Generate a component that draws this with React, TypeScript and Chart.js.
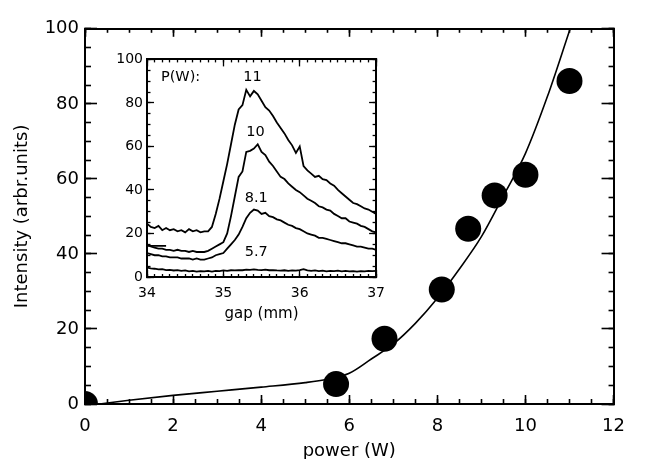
import React, { useEffect, useRef } from 'react';
import { Chart, registerables } from 'chart.js';

Chart.register(...registerables);

// ---------- main panel data ----------
const powerW = [0, 5.7, 6.8, 8.1, 8.7, 9.3, 10.0, 11.0];
const intensity = [0, 5.3, 17.4, 30.5, 46.7, 55.6, 61.1, 86.1];

const fitPowerW = [0.33, 1, 2, 3, 4, 5, 5.5, 6, 6.5, 7, 7.5, 8, 8.5, 9, 9.5, 10, 10.5, 11, 11.1];
const fitIntensity = [0, 1.0, 2.3, 3.4, 4.5, 5.7, 6.6, 8.2, 12.0, 16.0, 21.5, 28.2, 36, 44.6, 55.5, 66.8, 82, 99.5, 103];

const powerTicks = [0, 2, 4, 6, 8, 10, 12];
const intensityTicks = [0, 20, 40, 60, 80, 100];
const powerMinorStep = 0.5;
const intensityMinorStep = 5;

// ---------- inset data ----------
const gapMm = [
  34.0, 34.05, 34.1, 34.15, 34.2, 34.25, 34.3, 34.35, 34.4, 34.45,
  34.5, 34.55, 34.6, 34.65, 34.7, 34.75, 34.8, 34.85, 34.9, 34.95,
  35.0, 35.05, 35.1, 35.15, 35.2, 35.25, 35.3, 35.35, 35.4, 35.45,
  35.5, 35.55, 35.6, 35.65, 35.7, 35.75, 35.8, 35.85, 35.9, 35.95,
  36.0, 36.05, 36.1, 36.15, 36.2, 36.25, 36.3, 36.35, 36.4, 36.45,
  36.5, 36.55, 36.6, 36.65, 36.7, 36.75, 36.8, 36.85, 36.9, 36.95,
  37.0,
];
const spectrum11W = [
  24.5, 23, 22.5, 23.5, 21.5, 22.5, 21.5, 22, 21, 21.5,
  20.5, 22, 21, 21.5, 20.5, 21, 21, 23, 29, 36,
  44, 52, 61, 70, 77, 79, 86, 83, 85.5, 84,
  81, 78, 76.5, 74, 71, 68.5, 66, 63, 60.5, 57,
  60, 51, 49, 47.5, 46, 46.5, 45, 44.5, 43, 42,
  40, 38.5, 37, 35.5, 34, 33.5, 32.5, 31.5, 31, 30,
  29,
];
const spectrum10W = [
  15, 14, 13.5, 13, 13, 12.5, 12.5, 12, 12.5, 12,
  12, 11.5, 12, 11.5, 11.5, 11.5, 12, 13, 14, 15,
  16, 20, 28, 37, 46, 48.5, 57.5, 58, 59, 61,
  57.5, 56, 53, 51, 48.5, 46, 45, 43, 41.5, 40,
  39, 37.5, 36, 35, 34, 32.5, 32, 31, 30.5, 29,
  28, 27, 27, 25.5, 25, 24.5, 23.5, 23, 22, 21,
  20.5,
];
const spectrum8p1W = [
  11, 10.5, 10, 10, 9.5, 9.5, 9, 9, 9, 8.5,
  8.5, 8.5, 8, 8.5, 8, 8, 8.5, 9, 10, 10.5,
  11, 13, 15, 17, 19.5, 23, 27, 29.5, 31, 30.5,
  29, 29.5, 28, 27.5, 26.5, 26, 25, 24, 23.5, 22.5,
  22, 21, 20, 19.5, 19, 18, 18, 17.5, 17, 16.5,
  16, 15.5, 15.5, 15, 14.5, 14, 14, 13.5, 13, 13,
  12.5,
];
const spectrum5p7W = [
  4.3, 4, 3.8, 3.5, 3.6, 3.2, 3.3, 3, 3.2, 2.8,
  3, 2.6, 2.8, 2.5, 2.7, 2.6, 2.8, 2.5, 2.8, 2.7,
  3, 2.8, 3.1, 3, 3.2, 3.1, 3.4, 3.3, 3.5, 3.3,
  3.2, 3.4, 3.1, 3.2, 3, 2.9, 3.1, 2.8, 3, 2.9,
  3.2, 3.6, 3, 2.8, 3, 2.7, 2.9, 2.6, 2.8, 2.7,
  2.9, 2.6, 2.8, 2.6, 2.7, 2.5, 2.7, 2.6, 2.8, 2.7,
  2.8,
];
const markGap = [34.0, 34.25];
const markLevel = [14.3, 14.3];

const gapTicks = [34, 35, 36, 37];
const insetTicks = [0, 20, 40, 60, 80, 100];
const gapMinorStep = 0.1;
const insetMinorStep = 5;

const insetLabels = ['P(W):', '11', '10', '8.1', '5.7'];
const insetLabelGap = [34.44, 35.38, 35.42, 35.43, 35.43];
const insetLabelLevel = [92, 91.7, 66.5, 36.4, 11.2];

// ---------- helpers ----------
const FONT = 'DejaVu Sans';
const NO_OVERFLOW = { left: 0, top: 0, right: 0, bottom: 0 };

function stepsBetween(min: number, max: number, step: number): number[] {
  const out: number[] = [];
  const n = Math.round((max - min) / step);
  for (let i = 0; i <= n; i++) out.push(+(min + i * step).toFixed(6));
  return out;
}

function pairs(xs: number[], ys: number[]) {
  return xs.map((x, i) => ({ x, y: ys[i] }));
}

interface AxisSpec {
  pos: 'left' | 'right' | 'top' | 'bottom';
  min: number;
  max: number;
  ticks: number[];
  len: number;
  size: number;
  weight: number;
  tickWidth: number;
  border: number;
  labels?: { size: number; padding: number };
  title?: { text: string; size: number; padding: any };
}

function makeAxis(s: AxisSpec) {
  return {
    type: 'linear',
    position: s.pos,
    min: s.min,
    max: s.max,
    weight: s.weight,
    afterBuildTicks: (sc: any) => {
      sc.ticks = s.ticks.map((v) => ({ value: v }));
    },
    afterFit: (sc: any) => {
      if (sc.isHorizontal()) sc.height = s.size;
      else sc.width = s.size;
    },
    ticks: s.labels
      ? {
          display: true,
          autoSkip: false,
          maxRotation: 0,
          minRotation: 0,
          padding: s.labels.padding,
          color: '#000',
          font: { family: FONT, size: s.labels.size },
          callback: (v: any) => String(v),
        }
      : { display: false },
    grid: {
      display: true,
      drawOnChartArea: false,
      drawTicks: true,
      tickLength: -s.len,
      tickWidth: s.tickWidth,
      tickColor: '#000',
    },
    border: { display: s.border > 0, color: '#000', width: s.border || 1 },
    title: s.title
      ? {
          display: true,
          text: s.title.text,
          color: '#000',
          font: { family: FONT, size: s.title.size },
          padding: s.title.padding,
        }
      : { display: false },
  };
}

const insetTextPlugin = {
  id: 'insetText',
  afterDatasetsDraw(chart: any) {
    const { ctx } = chart;
    const xs = chart.scales.x;
    const ys = chart.scales.y;
    ctx.save();
    ctx.fillStyle = '#000';
    ctx.font = `14.5px "${FONT}"`;
    ctx.textAlign = 'center';
    ctx.textBaseline = 'middle';
    insetLabels.forEach((t, i) => {
      ctx.fillText(t, xs.getPixelForValue(insetLabelGap[i]), ys.getPixelForValue(insetLabelLevel[i]));
    });
    ctx.restore();
  },
};

export default function App() {
  const mainRef = useRef<HTMLCanvasElement>(null);
  const insetRef = useRef<HTMLCanvasElement>(null);

  useEffect(() => {
    document.body.style.margin = '0';

    const powerMinor = stepsBetween(0, 12, powerMinorStep);
    const intensityMinor = stepsBetween(0, 100, intensityMinorStep);

    const main = new Chart(mainRef.current as HTMLCanvasElement, {
      type: 'line',
      data: {
        datasets: [
          {
            data: pairs(fitPowerW, fitIntensity),
            borderColor: '#000',
            borderWidth: 1.6,
            pointRadius: 0,
            fill: false,
            cubicInterpolationMode: 'monotone',
            clip: NO_OVERFLOW,
            xAxisID: 'x',
            yAxisID: 'y',
          } as any,
          {
            data: pairs(powerW, intensity),
            showLine: false,
            pointRadius: 13,
            pointBorderWidth: 0,
            pointBackgroundColor: '#000',
            backgroundColor: '#000',
            borderColor: '#000',
            clip: NO_OVERFLOW,
            xAxisID: 'x',
            yAxisID: 'y',
          } as any,
        ],
      },
      options: {
        responsive: false,
        animation: false,
        devicePixelRatio: 1,
        layout: { padding: { top: 14, right: 12, left: 0, bottom: 0 } },
        plugins: { legend: { display: false }, tooltip: { enabled: false } },
        scales: {
          x: makeAxis({ pos: 'bottom', min: 0, max: 12, ticks: powerTicks, len: 9, size: 55, weight: 10, tickWidth: 1.6, border: 2,
            labels: { size: 18, padding: 21 }, title: { text: 'power (W)', size: 18, padding: { top: 0, bottom: -3 } } }),
          xMinor: makeAxis({ pos: 'bottom', min: 0, max: 12, ticks: powerMinor, len: 5, size: 0, weight: 0, tickWidth: 1.6, border: 0 }),
          xTop: makeAxis({ pos: 'top', min: 0, max: 12, ticks: powerTicks, len: 8, size: 0, weight: 10, tickWidth: 1.6, border: 2 }),
          xTopMinor: makeAxis({ pos: 'top', min: 0, max: 12, ticks: powerMinor, len: 4, size: 0, weight: 0, tickWidth: 1.6, border: 0 }),
          y: makeAxis({ pos: 'left', min: 0, max: 100, ticks: intensityTicks, len: 12, size: 85, weight: 10, tickWidth: 1.6, border: 2,
            labels: { size: 18, padding: 18 }, title: { text: 'Intensity (arbr.units)', size: 18, padding: { top: 12, bottom: 0 } } }),
          yMinor: makeAxis({ pos: 'left', min: 0, max: 100, ticks: intensityMinor, len: 6, size: 0, weight: 0, tickWidth: 1.6, border: 0 }),
          yRight: makeAxis({ pos: 'right', min: 0, max: 100, ticks: intensityTicks, len: 12, size: 0, weight: 10, tickWidth: 1.6, border: 2 }),
          yRightMinor: makeAxis({ pos: 'right', min: 0, max: 100, ticks: intensityMinor, len: 5, size: 0, weight: 0, tickWidth: 1.6, border: 0 }),
        } as any,
      },
    });

    const gapMinor = stepsBetween(34, 37, gapMinorStep);
    const levelMinor = stepsBetween(0, 100, insetMinorStep);
    const lineStyle = { borderColor: '#000', borderWidth: 1.8, pointRadius: 0, fill: false, tension: 0, clip: NO_OVERFLOW, xAxisID: 'x', yAxisID: 'y' };

    const inset = new Chart(insetRef.current as HTMLCanvasElement, {
      type: 'line',
      data: {
        datasets: [
          { ...lineStyle, data: pairs(gapMm, spectrum11W) } as any,
          { ...lineStyle, data: pairs(gapMm, spectrum10W) } as any,
          { ...lineStyle, data: pairs(gapMm, spectrum8p1W) } as any,
          { ...lineStyle, data: pairs(gapMm, spectrum5p7W) } as any,
          { ...lineStyle, data: pairs(markGap, markLevel) } as any,
        ],
      },
      options: {
        responsive: false,
        animation: false,
        devicePixelRatio: 1,
        layout: { padding: { top: 12, right: 11, left: 0, bottom: 0 } },
        plugins: { legend: { display: false }, tooltip: { enabled: false } },
        scales: {
          x: makeAxis({ pos: 'bottom', min: 34, max: 37, ticks: gapTicks, len: 7, size: 53, weight: 10, tickWidth: 1.3, border: 2,
            labels: { size: 14, padding: 15 }, title: { text: 'gap (mm)', size: 15, padding: { top: 0, bottom: 7 } } }),
          xMinor: makeAxis({ pos: 'bottom', min: 34, max: 37, ticks: gapMinor, len: 3, size: 0, weight: 0, tickWidth: 1.3, border: 0 }),
          xTop: makeAxis({ pos: 'top', min: 34, max: 37, ticks: gapTicks, len: 7, size: 0, weight: 10, tickWidth: 1.3, border: 2 }),
          xTopMinor: makeAxis({ pos: 'top', min: 34, max: 37, ticks: gapMinor, len: 3, size: 0, weight: 0, tickWidth: 1.3, border: 0 }),
          y: makeAxis({ pos: 'left', min: 0, max: 100, ticks: insetTicks, len: 7, size: 47, weight: 10, tickWidth: 1.3, border: 2,
            labels: { size: 14, padding: 11 } }),
          yMinor: makeAxis({ pos: 'left', min: 0, max: 100, ticks: levelMinor, len: 3.5, size: 0, weight: 0, tickWidth: 1.3, border: 0 }),
          yRight: makeAxis({ pos: 'right', min: 0, max: 100, ticks: insetTicks, len: 7, size: 0, weight: 10, tickWidth: 1.3, border: 2 }),
          yRightMinor: makeAxis({ pos: 'right', min: 0, max: 100, ticks: levelMinor, len: 3.5, size: 0, weight: 0, tickWidth: 1.3, border: 0 }),
        } as any,
      },
      plugins: [insetTextPlugin],
    });

    return () => {
      main.destroy();
      inset.destroy();
    };
  }, []);

  return (
    <div style={{ position: 'relative', width: 646, height: 459, background: '#fff', overflow: 'hidden' }}>
      <canvas ref={mainRef} width={646} height={459} style={{ position: 'absolute', left: 0, top: 0 }} />
      <canvas ref={insetRef} width={300} height={290} style={{ position: 'absolute', left: 100, top: 40 }} />
    </div>
  );
}
